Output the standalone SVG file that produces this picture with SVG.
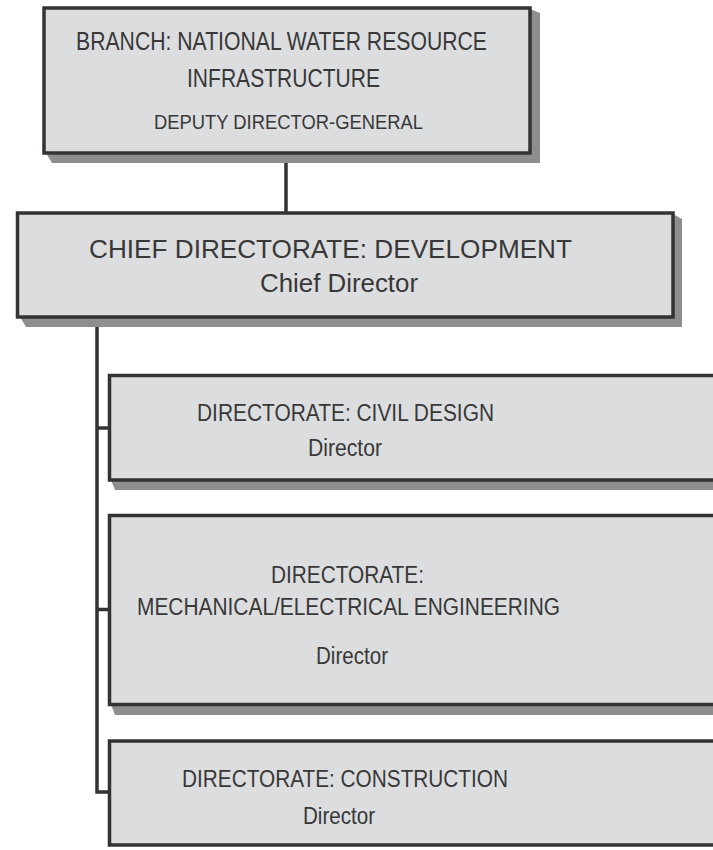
<svg xmlns="http://www.w3.org/2000/svg" width="713" height="850" viewBox="0 0 713 850">
<style>
.box{fill:#dcdddf;stroke:#333;stroke-width:3.5}
.sh{fill:#8e8e8e}
.t{font-family:"Liberation Sans",Arial,sans-serif;fill:#383838}
.con{fill:none;stroke:#333;stroke-width:3.5}
</style>
<rect width="713" height="850" fill="#fff"/>
<g id="connectors">
<line class="con" x1="286" y1="153" x2="286" y2="213"/>
<polyline class="con" points="97,317 97,792 109,792"/>
<line class="con" x1="97" y1="428" x2="109" y2="428"/>
<line class="con" x1="97" y1="609.5" x2="109" y2="609.5"/>
</g>
<g id="branch">
<polygon class="sh" points="46,153 52,163 540,163 540,13 530,9"/>
<rect class="box" x="44" y="8" width="486" height="145"/>
<text class="t" x="76" y="50" font-size="25" textLength="411" lengthAdjust="spacingAndGlyphs">BRANCH: NATIONAL WATER RESOURCE</text>
<text class="t" x="187" y="87" font-size="25" textLength="193" lengthAdjust="spacingAndGlyphs">INFRASTRUCTURE</text>
<text class="t" x="154" y="129" font-size="20" textLength="269" lengthAdjust="spacingAndGlyphs">DEPUTY DIRECTOR-GENERAL</text>
</g>
<g id="chief">
<polygon class="sh" points="20,317 26,327 682,327 682,219 673,214"/>
<rect class="box" x="17.5" y="213" width="655.5" height="104"/>
<text class="t" x="89" y="258" font-size="26" textLength="483" lengthAdjust="spacingAndGlyphs">CHIEF DIRECTORATE: DEVELOPMENT</text>
<text class="t" x="260" y="292" font-size="25" textLength="158" lengthAdjust="spacingAndGlyphs">Chief Director</text>
</g>
<g id="civil">
<polygon class="sh" points="111,480 115,490 730,490 730,480"/>
<rect class="box" x="109.5" y="375.5" width="620" height="104.5"/>
<text class="t" x="197" y="421" font-size="23" textLength="297" lengthAdjust="spacingAndGlyphs">DIRECTORATE: CIVIL DESIGN</text>
<text class="t" x="308" y="456" font-size="23" textLength="74" lengthAdjust="spacingAndGlyphs">Director</text>
</g>
<g id="mech">
<polygon class="sh" points="111,704.5 115,715 730,715 730,704.5"/>
<rect class="box" x="109.5" y="515.5" width="620" height="189"/>
<text class="t" x="271" y="583" font-size="23.5" textLength="153" lengthAdjust="spacingAndGlyphs">DIRECTORATE:</text>
<text class="t" x="137" y="615" font-size="23.5" textLength="423" lengthAdjust="spacingAndGlyphs">MECHANICAL/ELECTRICAL ENGINEERING</text>
<text class="t" x="316" y="664" font-size="23.5" textLength="72" lengthAdjust="spacingAndGlyphs">Director</text>
</g>
<g id="construction">
<rect class="box" x="109.5" y="741" width="620" height="104"/>
<text class="t" x="182" y="787" font-size="24" textLength="326" lengthAdjust="spacingAndGlyphs">DIRECTORATE: CONSTRUCTION</text>
<text class="t" x="303" y="824" font-size="24" textLength="72" lengthAdjust="spacingAndGlyphs">Director</text>
</g>
</svg>
